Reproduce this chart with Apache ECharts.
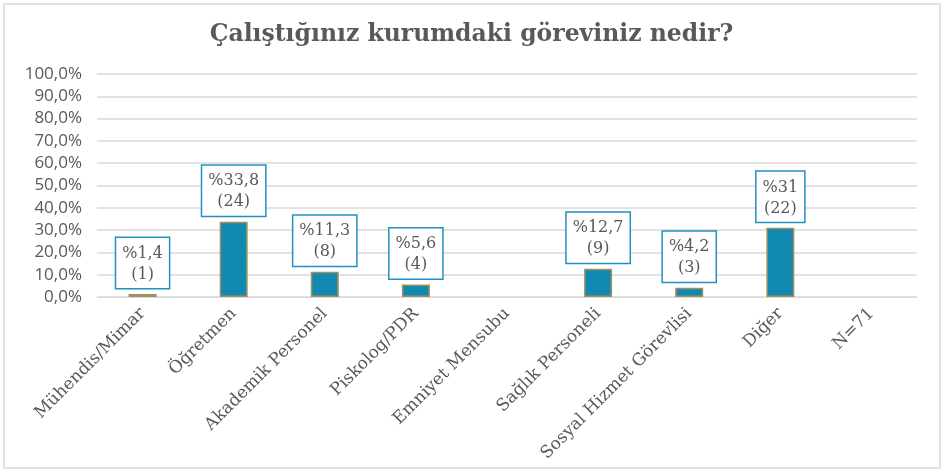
<!DOCTYPE html>
<html>
<head>
<meta charset="utf-8">
<script src="https://cdn.jsdelivr.net/npm/echarts@6/dist/echarts.min.js"></script>
<style>
   html, body { margin: 0; padding: 0; background: #ffffff; }
   #grafica { width: 943px; height: 472px; }
</style>
</head>
<body>
<div id="grafica"></div>
<script>
// ── Datos ──────────────────────────────────────────────────────────────
const categorias = [
   "Mühendis/Mimar", "Öğretmen", "Akademik Personel", "Piskolog/PDR",
   "Emniyet Mensubu", "Sağlık Personeli", "Sosyal Hizmet Görevlisi", "Diğer", "N=71"
];
const porcentajes = [1.4, 33.8, 11.3, 5.6, null, 12.7, 4.2, 31, null];
const cantidades = [1, 24, 8, 4, null, 9, 3, 22, null];
const ticksY = [0, 10, 20, 30, 40, 50, 60, 70, 80, 90, 100];

const colores = {
   barra: "#118ab2",
   bordeBarra: "#a38f5e",
   bordeEtiqueta: "#1f92bf",
   texto: "#595959",
   grid: "#d9d9d9",
   marco: "#d9d9d9"
};

const grafica = echarts.init(document.getElementById("grafica"));

const fmtNumero = (v) => String(v).replace(".", ",");

grafica.setOption({
   backgroundColor: "#ffffff",
   animation: false,
   title: {
      text: "Çalıştığınız kurumdaki göreviniz nedir?",
      left: "center",
      top: 18,
      textStyle: { fontFamily: "DejaVu Serif", fontWeight: "bold", fontSize: 23.5, color: colores.texto }
   },
   graphic: [{
      type: "rect",
      shape: { x: 4, y: 4, width: 936, height: 464 },
      style: { fill: "none", stroke: colores.marco, lineWidth: 1.5 },
      silent: true
   }],
   grid: { left: 97, right: 26, top: 74, bottom: 175 },
   xAxis: {
      type: "category",
      data: categorias,
      axisLine: { lineStyle: { color: colores.grid } },
      axisTick: { show: false },
      axisLabel: {
         interval: 0, rotate: 45, margin: 14,
         fontFamily: "DejaVu Serif", fontSize: 17, color: colores.texto
      }
   },
   yAxis: {
      type: "value",
      min: 0, max: 100, interval: 10,
      axisLine: { show: false },
      axisTick: { show: false },
      splitLine: { lineStyle: { color: colores.grid, width: 1.5 } },
      axisLabel: {
         margin: 15,
         fontFamily: "Open Sans", fontSize: 17, color: colores.texto,
         formatter: (v) => ticksY.includes(v) ? `${v.toFixed(1).replace(".", ",")}%` : ""
      }
   },
   series: [{
      type: "bar",
      data: porcentajes,
      barWidth: 28,
      itemStyle: { color: colores.barra, borderColor: colores.bordeBarra, borderWidth: 1.5 },
      label: {
         show: true,
         position: "top",
         distance: 6,
         formatter: (p) => `%${fmtNumero(porcentajes[p.dataIndex])}\n(${cantidades[p.dataIndex]})`,
         fontFamily: "DejaVu Serif",
         fontSize: 16,
         lineHeight: 21,
         color: colores.texto,
         backgroundColor: "#ffffff",
         borderColor: colores.bordeEtiqueta,
         borderWidth: 1.5,
         padding: [5, 6, 3, 6]
      }
   }]
});
</script>
</body>
</html>
